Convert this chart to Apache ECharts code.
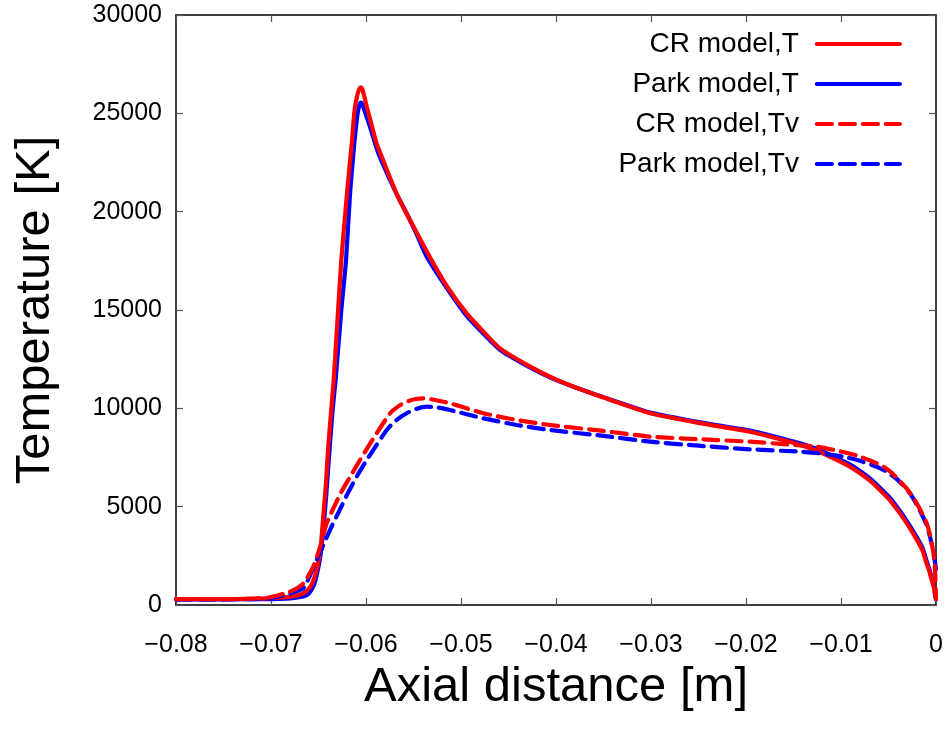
<!DOCTYPE html>
<html>
<head>
<meta charset="utf-8">
<script src="https://cdn.jsdelivr.net/npm/echarts@6/dist/echarts.min.js"></script>
<style>html,body{margin:0;padding:0;background:#fff}#c{width:950px;height:733px}</style>
</head>
<body>
<div id="c"></div>
<script>
// ---- data ----
const seriesNames = ['CR model,T', 'Park model,T', 'CR model,Tv', 'Park model,Tv'];
const xTicks = [-0.08, -0.07, -0.06, -0.05, -0.04, -0.03, -0.02, -0.01, 0];
const yTicks = [0, 5000, 10000, 15000, 20000, 25000, 30000];

const crT = [[-0.08,300],[-0.075,300],[-0.071,320],[-0.068,420],[-0.0666,590],[-0.0659,900],[-0.0655,1300],[-0.0652,1780],[-0.0648,2800],[-0.0645,4490],[-0.0642,6300],[-0.0640,7880],[-0.0637,9700],[-0.0634,11440],[-0.0630,14500],[-0.0626,17540],[-0.0620,20940],[-0.0615,23480],[-0.0612,25170],[-0.0609,25950],[-0.0607,26250],[-0.06056,26320],[-0.0604,26250],[-0.0602,25900],[-0.0599,25300],[-0.0594,24400],[-0.0589,23480],[-0.0583,22750],[-0.0578,22120],[-0.0568,20940],[-0.0559,20050],[-0.0550,19240],[-0.0533,17710],[-0.0514,16150],[-0.0494,14830],[-0.0476,13880],[-0.0459,13050],[-0.043,12200],[-0.0403,11530],[-0.0375,10980],[-0.035,10550],[-0.0325,10130],[-0.0301,9750],[-0.025,9260],[-0.0196,8810],[-0.0170,8500],[-0.0143,8140],[-0.0125,7830],[-0.0108,7460],[-0.0093,7100],[-0.008,6700],[-0.0069,6300],[-0.0059,5850],[-0.0048,5300],[-0.0038,4660],[-0.0029,4020],[-0.0020,3300],[-0.0014,2750],[-0.0010,2120],[-0.0007,1720],[-0.00045,1270],[-0.0002,850],[-0.0001,500],[0,300]];

const pkT = [[-0.08,290],[-0.075,290],[-0.071,300],[-0.068,340],[-0.0666,430],[-0.0660,600],[-0.0655,1000],[-0.0652,1500],[-0.0648,2500],[-0.0645,3800],[-0.0642,5500],[-0.0639,7500],[-0.0635,10000],[-0.0632,11440],[-0.0626,15000],[-0.0621,17540],[-0.06168,20935],[-0.06123,23477],[-0.06088,25000],[-0.0607,25400],[-0.06056,25543],[-0.0604,25480],[-0.0602,25200],[-0.05958,24320],[-0.0587,22970],[-0.05747,21610],[-0.0566,20720],[-0.05572,19920],[-0.0546,18780],[-0.05361,17710],[-0.0514,16050],[-0.0494,14700],[-0.0476,13780],[-0.0459,12980],[-0.043,12150],[-0.0403,11500],[-0.0375,10980],[-0.035,10570],[-0.0325,10160],[-0.0301,9780],[-0.025,9300],[-0.0196,8870],[-0.0170,8570],[-0.0143,8220],[-0.0125,7920],[-0.0108,7560],[-0.0093,7210],[-0.008,6820],[-0.0069,6420],[-0.0059,5960],[-0.0048,5420],[-0.0038,4780],[-0.0029,4140],[-0.0020,3430],[-0.0014,2880],[-0.0010,2250],[-0.0007,1820],[-0.00045,1350],[-0.0002,900],[-0.0001,550],[0,300]];

const crTv = [[-0.08,300],[-0.075,300],[-0.072,320],[-0.070,400],[-0.068,680],[-0.0666,1100],[-0.06555,1950],[-0.0648,3000],[-0.06414,4150],[-0.0634,4950],[-0.06260,5750],[-0.06163,6550],[-0.06063,7373],[-0.05970,8100],[-0.05887,8730],[-0.05747,9748],[-0.0566,10100],[-0.05572,10337],[-0.0549,10460],[-0.05397,10510],[-0.0530,10450],[-0.05116,10256],[-0.04765,9748],[-0.04414,9407],[-0.04063,9153],[-0.035,8850],[-0.0301,8560],[-0.025,8430],[-0.01958,8305],[-0.0160,8180],[-0.01256,8050],[-0.0105,7860],[-0.0083,7600],[-0.0070,7360],[-0.0057,7080],[-0.0048,6780],[-0.0040,6400],[-0.0030,5870],[-0.00203,5171],[-0.0015,4700],[-0.00098,4154],[-0.0007,3700],[-0.00045,3137],[-0.0002,2400],[-0.0001,1780],[0,420]];

const pkTv = [[-0.08,290],[-0.075,290],[-0.072,300],[-0.070,350],[-0.068,590],[-0.0666,850],[-0.06519,2288],[-0.06379,3814],[-0.0628,4800],[-0.0619,5700],[-0.06090,6600],[-0.05993,7373],[-0.05900,8050],[-0.05782,8898],[-0.0568,9400],[-0.05572,9748],[-0.0547,9970],[-0.05361,10083],[-0.0525,10050],[-0.05116,9915],[-0.04765,9493],[-0.04414,9153],[-0.04063,8898],[-0.035,8600],[-0.0301,8305],[-0.025,8100],[-0.01958,7917],[-0.01432,7795],[-0.0120,7700],[-0.00976,7541],[-0.0080,7330],[-0.00624,7033],[-0.00519,6780],[-0.0040,6350],[-0.00274,5680],[-0.0018,4900],[-0.0011,4200],[-0.00063,3473],[-0.0002,2500],[0,1800]];

// ---- chart ----
const FONT = 'Liberation Sans, Arial, sans-serif';
const RED = '#ff0000', BLUE = '#0000ff';
function fmtX(v){ if (Math.abs(v) < 1e-9) return '0'; return (v < 0 ? '\u2212' : '') + Math.abs(v).toFixed(2); }
function fmtY(v){ return String(Math.round(v)); }
function mkLine(name, data, color, dashed, z){
  return { name, type:'line', data, showSymbol:false, symbol:'none', smooth:0.2, z,
    lineStyle:{ color, width:4.2, type: dashed ? [15,8] : 'solid', cap:'round', join:'round' },
    itemStyle:{color}, emphasis:{disabled:true}, animation:false };
}
const axisLineStyle = { show:true, onZero:false, lineStyle:{ color:'#000', width:1.5 } };
const tickStyle = { show:true, inside:true, length:7, lineStyle:{ color:'#555', width:1.2 } };
const chart = echarts.init(document.getElementById('c'), null, {renderer:'canvas'});
chart.setOption({
  animation:false,
  backgroundColor:'#fff',
  grid:{ left:176, right:14, top:15, bottom:128, containLabel:false },
  legend:{
    data: seriesNames, orient:'vertical', align:'right', right:43, top:24,
    itemWidth:83, itemHeight:14, itemGap:10,
    itemStyle:{ opacity:0 },
    lineStyle:{ width:4.2 },
    textStyle:{ fontFamily:FONT, fontSize:28, color:'#000', lineHeight:30, padding:[0,13,0,0] }
  },
  xAxis:[
    { type:'value', min:xTicks[0], max:xTicks[xTicks.length-1], interval:0.01, position:'bottom',
      name:'Axial distance [m]', nameLocation:'middle', nameGap:51,
      nameTextStyle:{ fontFamily:FONT, fontSize:49, color:'#000' },
      axisLine:axisLineStyle, axisTick:tickStyle, splitLine:{show:false},
      axisLabel:{ formatter:fmtX, fontFamily:FONT, fontSize:25, color:'#000', margin:28 } },
    { type:'value', min:xTicks[0], max:xTicks[xTicks.length-1], interval:0.01, position:'top',
      axisLine:axisLineStyle, axisTick:tickStyle, splitLine:{show:false}, axisLabel:{show:false} }
  ],
  yAxis:[
    { type:'value', min:yTicks[0], max:yTicks[yTicks.length-1], interval:5000, position:'left',
      name:'Temperature [K]', nameLocation:'middle', nameGap:116,
      nameTextStyle:{ fontFamily:FONT, fontSize:49, color:'#000' },
      axisLine:axisLineStyle, axisTick:tickStyle, splitLine:{show:false},
      axisLabel:{ formatter:fmtY, fontFamily:FONT, fontSize:25, color:'#000', margin:14 } },
    { type:'value', min:yTicks[0], max:yTicks[yTicks.length-1], interval:5000, position:'right',
      axisLine:axisLineStyle, axisTick:tickStyle, splitLine:{show:false}, axisLabel:{show:false} }
  ],
  series:[
    mkLine(seriesNames[1], pkT, BLUE, false, 2),
    mkLine(seriesNames[0], crT, RED, false, 3),
    mkLine(seriesNames[3], pkTv, BLUE, true, 4),
    mkLine(seriesNames[2], crTv, RED, true, 5)
  ]
});
</script>
</body>
</html>
